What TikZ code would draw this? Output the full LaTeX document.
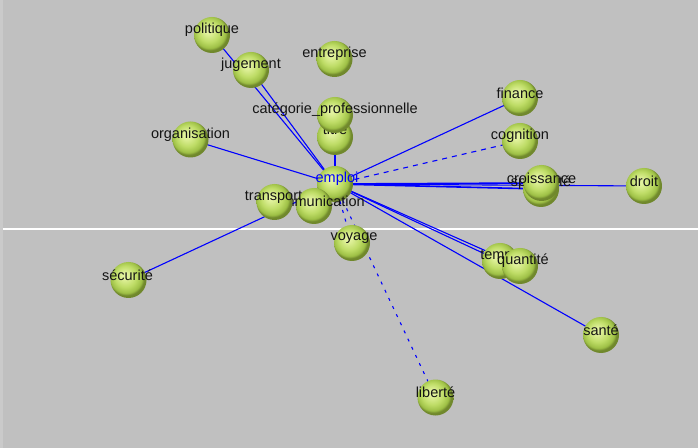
\documentclass[tikz,border=0pt]{standalone}
\usepackage{fontspec}
\setmainfont{Liberation Sans}
\definecolor{bg}{RGB}{192,192,192}
\definecolor{bgedge}{RGB}{202,202,202}
\definecolor{sphhi}{RGB}{226,242,158}
\definecolor{sphmid}{RGB}{190,220,102}
\definecolor{sphlow}{RGB}{158,192,70}
\definecolor{sphdark}{RGB}{112,136,44}
\definecolor{linkblue}{RGB}{0,0,255}
\pgfdeclareradialshading{greensphere}{\pgfpoint{-6bp}{7bp}}{color(0bp)=(sphhi); color(4bp)=(sphhi); color(15bp)=(sphmid); color(22bp)=(sphlow); color(25bp)=(sphdark); color(50bp)=(sphdark)}
\begin{document}
\begin{tikzpicture}[x=1bp,y=-1bp,
  sph/.style={circle, minimum size=36bp, inner sep=0pt, shading=greensphere},
  lab/.style={font=\fontsize{14.5bp}{16bp}\selectfont, text=black!92, inner sep=0pt, yshift=5bp},
  link/.style={draw=linkblue, line width=1.1bp},
  dashlink/.style={link, dash pattern=on 5bp off 5bp},
  dotlink/.style={link, dash pattern=on 3bp off 6bp}]
\fill[bg] (0,0) rectangle (698,448);
\useasboundingbox (0,0) rectangle (698,448);
\fill[bgedge] (0,0) rectangle (3,448);
\draw[white, line width=2bp] (3,229) -- (698,229);
% centres
\coordinate (politique) at (212,35);
\coordinate (jugement) at (251,70);
\coordinate (entreprise) at (334.5,59);
\coordinate (titre) at (335,137);
\coordinate (categorie) at (335,115);
\coordinate (organisation) at (190.5,139.5);
\coordinate (emploi) at (335,184);
\coordinate (transport) at (274.5,202);
\coordinate (communication) at (314,206);
\coordinate (voyage) at (352,243);
\coordinate (finance) at (520,98);
\coordinate (cognition) at (520,141);
\coordinate (specialite) at (541,189);
\coordinate (croissance) at (541.5,183);
\coordinate (droit) at (644,186);
\coordinate (temps) at (500,261);
\coordinate (quantite) at (520,266);
\coordinate (sante) at (601,335);
\coordinate (securite) at (128.5,280);
\coordinate (liberte) at (435.5,397.5);
% connectors
\draw[link] (emploi) -- (politique);
\draw[link] (emploi) -- (jugement);
\draw[link] (emploi) -- (organisation);
\draw[link] (emploi) -- (categorie);
\draw[link] (emploi) -- (finance);
\draw[dashlink] (emploi) -- (cognition);
\draw[link, line width=1.6bp] (emploi) -- (croissance);
\draw[link, line width=1.6bp] (emploi) -- (specialite);
\draw[link] (emploi) -- (droit);
\draw[link] (emploi) -- (temps);
\draw[link] (emploi) -- (quantite);
\draw[link] (emploi) -- (sante);
\draw[link] (emploi) -- (securite);
\draw[dotlink] (emploi) -- (voyage);
\draw[dotlink] (emploi) -- (liberte);
% spheres, back to front
\node[sph] (s-titre) at (titre) {};
\node[lab, yshift=3bp] (l-titre) at (titre) {titre};
\node[sph] (s-categorie) at (categorie) {};
\node[lab] (l-categorie) at (categorie) {catégorie\_professionnelle};
\node[sph] (s-politique) at (politique) {};
\node[lab] (l-politique) at (politique) {politique};
\node[sph] (s-jugement) at (jugement) {};
\node[lab] (l-jugement) at (jugement) {jugement};
\node[sph] (s-entreprise) at (entreprise) {};
\node[lab] (l-entreprise) at (entreprise) {entreprise};
\node[sph] (s-organisation) at (organisation) {};
\node[lab] (l-organisation) at (organisation) {organisation};
\node[sph] (s-finance) at (finance) {};
\node[lab] (l-finance) at (finance) {finance};
\node[sph] (s-cognition) at (cognition) {};
\node[lab] (l-cognition) at (cognition) {cognition};
\node[sph] (s-specialite) at (specialite) {};
\node[lab, yshift=1bp] (l-specialite) at (specialite) {spécialité};
\node[sph] (s-croissance) at (croissance) {};
\node[lab] (l-croissance) at (croissance) {croissance};
\node[sph] (s-droit) at (droit) {};
\node[lab] (l-droit) at (droit) {droit};
\node[sph] (s-emploi) at (emploi) {};
\node[lab, text=linkblue, xshift=2bp] (l-emploi) at (emploi) {emploi};
\node[sph] (s-communication) at (communication) {};
\node[lab, xshift=2bp] (l-communication) at (communication) {communication};
\node[sph] (s-transport) at (transport) {};
\node[lab, xshift=-1bp] (l-transport) at (transport) {transport};
\node[sph] (s-voyage) at (voyage) {};
\node[lab, xshift=2bp] (l-voyage) at (voyage) {voyage};
\node[sph] (s-temps) at (temps) {};
\node[lab] (l-temps) at (temps) {temps};
\node[sph] (s-quantite) at (quantite) {};
\node[lab, xshift=3bp] (l-quantite) at (quantite) {quantité};
\node[sph] (s-sante) at (sante) {};
\node[lab] (l-sante) at (sante) {santé};
\node[sph] (s-securite) at (securite) {};
\node[lab, xshift=-1bp] (l-securite) at (securite) {sécurité};
\node[sph] (s-liberte) at (liberte) {};
\node[lab] (l-liberte) at (liberte) {liberté};
\end{tikzpicture}
\end{document}
